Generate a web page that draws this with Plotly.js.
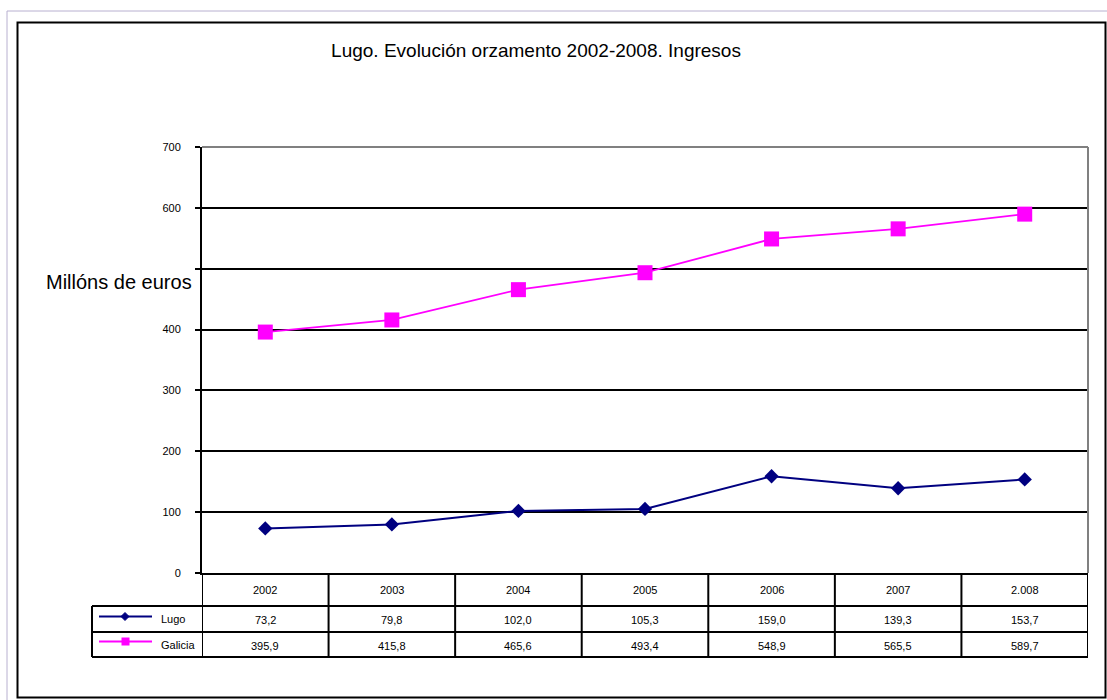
<!DOCTYPE html>
<html>
<head>
<meta charset="utf-8">
<script src="https://cdn.plot.ly/plotly-3.0.1.min.js"></script>
<style>html,body{margin:0;padding:0;background:#fff;}#chart{width:1107px;height:700px;}</style>
</head>
<body>
<div id="chart"></div>
<script>
// ---- data ----
const years = ['2002', '2003', '2004', '2005', '2006', '2007', '2.008'];
const lugo = [73.2, 79.8, 102.0, 105.3, 159.0, 139.3, 153.7];
const galicia = [395.9, 415.8, 465.6, 493.4, 548.9, 565.5, 589.7];
const seriesNames = ['Lugo', 'Galicia'];
const yTickVals = [0, 100, 200, 300, 400, 500, 600, 700];
const yTickText = ['0', '100', '200', '300', '400', '', '600', '700'];
const chartTitle = 'Lugo. Evolución orzamento 2002-2008. Ingresos';
const yTitle = 'Millóns de euros';

// ---- layout helpers (pixel -> paper) ----
const W = 1107, H = 700;
const L = 202, R = 1088, T = 147, B = 573;
const px = x => (x - L) / (R - L);
const py = y => (B - y) / (B - T);
const FONT = 'Arial, "Liberation Sans", sans-serif';
const NAVY = '#000080', MAG = '#FF00FF';
const fmt = v => v.toFixed(1).replace('.', ',');

const traces = [
  {x: years, y: lugo, name: seriesNames[0], type: 'scatter', mode: 'lines+markers',
   line: {color: NAVY, width: 2}, marker: {symbol: 'diamond', size: 11, color: NAVY}},
  {x: years, y: galicia, name: seriesNames[1], type: 'scatter', mode: 'lines+markers',
   line: {color: MAG, width: 1.8}, marker: {symbol: 'square', size: 15, color: MAG}}
];

const shapes = [];
const blk = {color: '#000', width: 2};
// outer thin frame
shapes.push({type: 'line', xref: 'paper', yref: 'paper', x0: px(7), x1: px(1107), y0: py(11), y1: py(11), line: {color: '#b8b0d0', width: 1}});
shapes.push({type: 'line', xref: 'paper', yref: 'paper', x0: px(7), x1: px(7), y0: py(11), y1: py(700), line: {color: '#b8b0d0', width: 1}});
// thick frame
shapes.push({type: 'rect', xref: 'paper', yref: 'paper', x0: px(17.5), x1: px(1105.5), y0: py(22.5), y1: py(697.5), line: blk});
// plot border top / right (gray)
shapes.push({type: 'line', xref: 'paper', yref: 'paper', x0: 0, x1: 1, y0: 1, y1: 1, line: {color: '#808080', width: 2}});
shapes.push({type: 'line', xref: 'paper', yref: 'paper', x0: 1, x1: 1, y0: 0, y1: 1, line: {color: '#808080', width: 2}});
// table lines
const rowY = [606, 632, 657];
rowY.forEach(y => shapes.push({type: 'line', xref: 'paper', yref: 'paper', x0: px(92), x1: 1, y0: py(y), y1: py(y), line: blk}));
for (let i = 0; i <= years.length; i++) {
  shapes.push({type: 'line', xref: 'x', yref: 'paper', x0: i - 0.5, x1: i - 0.5, y0: py(573), y1: py(657), line: blk});
}
shapes.push({type: 'line', xref: 'paper', yref: 'paper', x0: px(92), x1: px(92), y0: py(606), y1: py(657), line: blk});
// legend keys
shapes.push({type: 'line', xref: 'paper', yref: 'paper', x0: px(99), x1: px(152), y0: py(616.5), y1: py(616.5), line: {color: NAVY, width: 2}});
shapes.push({type: 'path', xref: 'paper', yref: 'paper',
  path: `M ${px(121)} ${py(616.5)} L ${px(125)} ${py(612.5)} L ${px(129)} ${py(616.5)} L ${px(125)} ${py(620.5)} Z`,
  fillcolor: NAVY, line: {color: NAVY, width: 1}});
shapes.push({type: 'line', xref: 'paper', yref: 'paper', x0: px(99), x1: px(152), y0: py(641.5), y1: py(641.5), line: {color: MAG, width: 2}});
shapes.push({type: 'rect', xref: 'paper', yref: 'paper', x0: px(121.5), x1: px(129.5), y0: py(637.5), y1: py(645.5),
  fillcolor: MAG, line: {color: MAG, width: 0}});

const annotations = [];
const tf = {family: FONT, size: 11, color: '#000'};
years.forEach((yr, i) => {
  // category axis: annotation x given as the category index
  annotations.push({xref: 'x', yref: 'paper', x: i, y: py(590), text: yr, showarrow: false, font: tf, xanchor: 'center', yanchor: 'middle'});
  annotations.push({xref: 'x', yref: 'paper', x: i, y: py(620), text: fmt(lugo[i]), showarrow: false, font: tf, xanchor: 'center', yanchor: 'middle'});
  annotations.push({xref: 'x', yref: 'paper', x: i, y: py(646), text: fmt(galicia[i]), showarrow: false, font: tf, xanchor: 'center', yanchor: 'middle'});
});
annotations.push({xref: 'paper', yref: 'paper', x: px(159), y: py(619), text: seriesNames[0], showarrow: false, font: tf, xanchor: 'left', yanchor: 'middle'});
annotations.push({xref: 'paper', yref: 'paper', x: px(159), y: py(645), text: seriesNames[1], showarrow: false, font: tf, xanchor: 'left', yanchor: 'middle'});
annotations.push({xref: 'paper', yref: 'paper', x: px(194), y: py(282), text: yTitle, showarrow: false,
  font: {family: FONT, size: 20, color: '#000'}, xanchor: 'right', yanchor: 'middle'});

const layout = {
  width: W, height: H,
  margin: {l: L, r: W - R, t: T, b: H - B, pad: 0},
  paper_bgcolor: '#fff', plot_bgcolor: '#fff',
  showlegend: false,
  font: {family: FONT, color: '#000'},
  title: {text: chartTitle, font: {family: FONT, size: 19, color: '#000'},
          x: 536 / W, xanchor: 'center', xref: 'container', y: 1 - 50 / H, yanchor: 'middle', yref: 'container'},
  xaxis: {type: 'category', range: [-0.5, years.length - 0.5], showticklabels: false, ticks: '',
          showgrid: false, zeroline: false, showline: true, linecolor: '#000', linewidth: 2, fixedrange: true},
  yaxis: {range: [0, 700], tickvals: yTickVals, ticktext: yTickText, ticks: 'outside', ticklen: 5, tickwidth: 2,
          tickcolor: '#000', tickfont: {family: FONT, size: 11, color: '#000'}, ticklabelstandoff: 12,
          showgrid: true, gridcolor: '#000', gridwidth: 2, zeroline: false,
          showline: true, linecolor: '#000', linewidth: 2, fixedrange: true},
  shapes: shapes,
  annotations: annotations
};

Plotly.newPlot('chart', traces, layout, {displayModeBar: false, staticPlot: true});
</script>
</body>
</html>
